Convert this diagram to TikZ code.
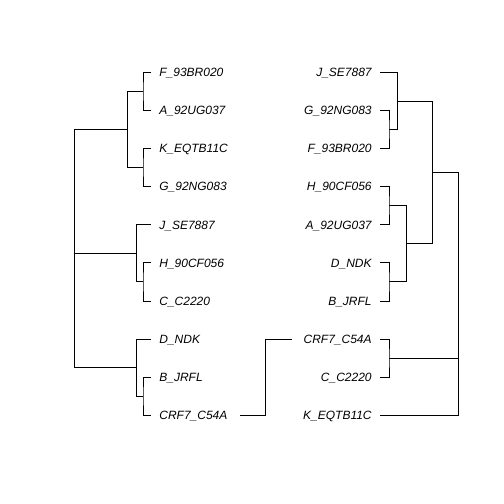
\documentclass[tikz,border=0pt]{standalone}
\usepackage{fontspec}
\setmainfont{Liberation Sans}
\begin{document}
\begin{tikzpicture}[x=1pt,y=-1pt,line width=0.75pt,
  lbl/.style={font=\itshape\fontsize{12}{14}\selectfont,inner sep=0pt,text height=8.6pt,text depth=0pt},
  lleaf/.style={lbl,anchor=west},
  rleaf/.style={lbl,anchor=east}]
\useasboundingbox (0,0) rectangle (504,504);
% left tree leaves
\foreach \n/\t/\i in {LF/F\_93BR020/0,LA/A\_92UG037/1,LK/K\_EQTB11C/2,LG/G\_92NG083/3,LJ/J\_SE7887/4,LH/H\_90CF056/5,LC/C\_C2220/6,LD/D\_NDK/7,LB/B\_JRFL/8,LX/CRF7\_C54A/9}{
  \node[lleaf] (\n) at (159,{72.3+38.1*\i}) {\t};
  \coordinate (\n t) at (151,{72.3+38.1*\i});
}
% right tree leaves
\foreach \n/\t/\i in {RJ/J\_SE7887/0,RG/G\_92NG083/1,RF/F\_93BR020/2,RH/H\_90CF056/3,RA/A\_92UG037/4,RD/D\_NDK/5,RB/B\_JRFL/6,RX/CRF7\_C54A/7,RC/C\_C2220/8,RK/K\_EQTB11C/9}{
  \node[rleaf] (\n) at (372,{72.3+38.1*\i}) {\t};
  \coordinate (\n t) at (380,{72.3+38.1*\i});
}
% left internal nodes
\coordinate (la) at (143,91.35);
\coordinate (lb) at (143,167.55);
\coordinate (lc) at (127,129.45);
\coordinate (ld) at (143,281.85);
\coordinate (le) at (136,253.3);
\coordinate (lf) at (143,396.15);
\coordinate (lg) at (136,367.6);
\coordinate (lr) at (74,250);
\draw (LFt) -| (la) |- (LAt);
\draw (LKt) -| (lb) |- (LGt);
\draw (lc) |- (la);
\draw (lc) |- (lb);
\draw (LHt) -| (ld) |- (LCt);
\draw (le) |- (LJt);
\draw (le) |- (ld);
\draw (LBt) -| (lf) |- (LXt);
\draw (lg) |- (LDt);
\draw (lg) |- (lf);
\draw (lr) |- (lc);
\draw (lr) |- (le);
\draw (lr) |- (lg);
% right internal nodes
\coordinate (ra) at (389,129.45);
\coordinate (rb) at (397,100.9);
\coordinate (rc) at (389,205.65);
\coordinate (rd) at (389,281.85);
\coordinate (re) at (406,243.75);
\coordinate (rf) at (432,172.3);
\coordinate (rg) at (389,358.05);
\coordinate (rr) at (458,300);
\draw (RGt) -| (ra) |- (RFt);
\draw (rb) |- (RJt);
\draw (rb) |- (ra);
\draw (RHt) -| (rc) |- (RAt);
\draw (RDt) -| (rd) |- (RBt);
\draw (re) |- (rc);
\draw (re) |- (rd);
\draw (rf) |- (rb);
\draw (rf) |- (re);
\draw (RXt) -| (rg) |- (RCt);
\draw (rr) |- (rf);
\draw (rr) |- (rg);
\draw (rr) |- (RKt);
% connector between the two CRF7_C54A leaves
\coordinate (cl) at (240,415.2);
\coordinate (cr) at (292,339);
\draw (cl) -- (265,415.2) |- (cr);
\end{tikzpicture}
\end{document}
